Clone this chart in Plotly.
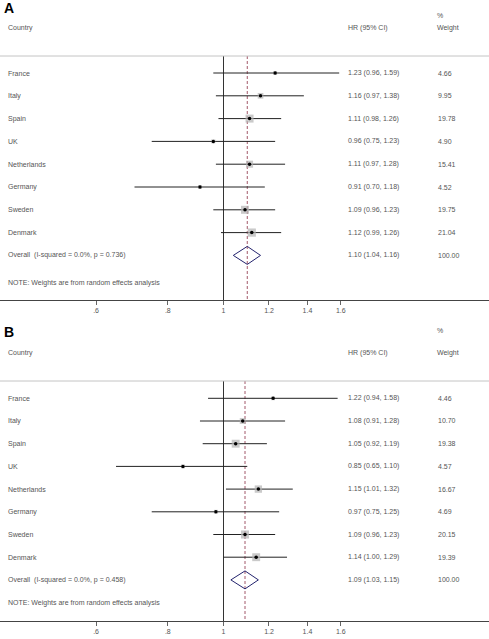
import math
import plotly.graph_objects as go

# ---------------- data ----------------
countries = ["France", "Italy", "Spain", "UK", "Netherlands", "Germany", "Sweden", "Denmark"]

a_hr = [1.23, 1.16, 1.11, 0.96, 1.11, 0.91, 1.09, 1.12]
a_lo = [0.96, 0.97, 0.98, 0.75, 0.97, 0.70, 0.96, 0.99]
a_hi = [1.59, 1.38, 1.26, 1.23, 1.28, 1.18, 1.23, 1.26]
a_w = [4.66, 9.95, 19.78, 4.90, 15.41, 4.52, 19.75, 21.04]
a_overall = [1.10, 1.04, 1.16]
a_het = "Overall  (I-squared = 0.0%, p = 0.736)"

b_hr = [1.22, 1.08, 1.05, 0.85, 1.15, 0.97, 1.09, 1.14]
b_lo = [0.94, 0.91, 0.92, 0.65, 1.01, 0.75, 0.96, 1.00]
b_hi = [1.58, 1.28, 1.19, 1.10, 1.32, 1.25, 1.23, 1.29]
b_w = [4.46, 10.70, 19.38, 4.57, 16.67, 4.69, 20.15, 19.39]
b_overall = [1.09, 1.03, 1.15]
b_het = "Overall  (I-squared = 0.0%, p = 0.458)"

tick_vals = [0.6, 0.8, 1, 1.2, 1.4, 1.6]
tick_text = [".6", ".8", "1", "1.2", "1.4", "1.6"]
note_text = "NOTE: Weights are from random effects analysis"

# ---------------- layout constants ----------------
W, H = 489, 639
FONT = "Liberation Sans, Arial, Helvetica, sans-serif"
TXT = "#555555"
X1_PX = 223.5          # pixel of HR = 1
PX_PER_LOG10 = 574.5
x_range = [-X1_PX / PX_PER_LOG10, (W - X1_PX) / PX_PER_LOG10]

panels = [
    dict(key="A", hr=a_hr, lo=a_lo, hi=a_hi, w=a_w, ov=a_overall, het=a_het,
         top=0, label_px=8, pct_px=15, head_px=28, line_px=56, first_px=73, step=22.8,
         note_px=283, axis_px=300, xa="x", ya="y"),
    dict(key="B", hr=b_hr, lo=b_lo, hi=b_hi, w=b_w, ov=b_overall, het=b_het,
         top=322, label_px=332, pct_px=331, head_px=353, line_px=381, first_px=398.3, step=22.7,
         note_px=603, axis_px=621, xa="x2", ya="y2"),
]

fig = go.Figure()
shapes = []
annotations = []

for p in panels:
    def row(px, p=p):
        return (px - p["first_px"]) / p["step"]

    n = len(countries)
    idx = list(range(n))
    ov_row = n
    line_row = row(p["line_px"])
    axis_row = row(p["axis_px"])
    top_row = row(p["top"])
    xa, ya = p["xa"], p["ya"]

    # reference line at 1
    fig.add_trace(go.Scatter(x=[1, 1], y=[line_row, axis_row], mode="lines",
                             line=dict(color="#333333", width=1), xaxis=xa, yaxis=ya,
                             hoverinfo="skip"))
    # overall dashed line
    fig.add_trace(go.Scatter(x=[p["ov"][0]] * 2, y=[line_row, axis_row], mode="lines",
                             line=dict(color="#8b2e44", width=0.8, dash="3px,2px"),
                             xaxis=xa, yaxis=ya, hoverinfo="skip"))
    # CI lines
    xs, ys = [], []
    for i in idx:
        xs += [p["lo"][i], p["hi"][i], None]
        ys += [i, i, None]
    fig.add_trace(go.Scatter(x=xs, y=ys, mode="lines", line=dict(color="#222222", width=1),
                             xaxis=xa, yaxis=ya, hoverinfo="skip"))
    # weight boxes
    fig.add_trace(go.Scatter(x=p["hr"], y=idx, mode="markers",
                             marker=dict(symbol="square", color="#b4b4b4",
                                         size=[1.8 * math.sqrt(v) for v in p["w"]],
                                         line=dict(width=0)),
                             xaxis=xa, yaxis=ya, hoverinfo="skip"))
    # point estimates
    fig.add_trace(go.Scatter(x=p["hr"], y=idx, mode="markers",
                             marker=dict(symbol="circle", color="#000000", size=3.5,
                                         line=dict(width=0)),
                             xaxis=xa, yaxis=ya, hoverinfo="skip"))
    # overall diamond
    est, lo, hi = p["ov"]
    hh = 9.0 / p["step"]
    fig.add_trace(go.Scatter(x=[lo, est, hi, est, lo],
                             y=[ov_row, ov_row - hh, ov_row, ov_row + hh, ov_row],
                             mode="lines", line=dict(color="#24246e", width=1),
                             xaxis=xa, yaxis=ya, hoverinfo="skip"))

    yref = ya
    # header separator
    shapes.append(dict(type="line", xref="paper", yref=yref, x0=0, x1=1,
                       y0=line_row, y1=line_row, line=dict(color="#c4c4c4", width=1)))

    def txt(x_px, y_px, s, size=7, color=TXT, bold=False):
        annotations.append(dict(xref="paper", yref=yref, x=x_px / W, y=row(y_px),
                                text=("<b>%s</b>" % s) if bold else s,
                                showarrow=False, xanchor="left", yanchor="middle",
                                font=dict(family=FONT, size=size, color=color)))

    def txt_row(x_px, r, s):
        annotations.append(dict(xref="paper", yref=yref, x=x_px / W, y=r, text=s,
                                showarrow=False, xanchor="left", yanchor="middle",
                                font=dict(family=FONT, size=7, color=TXT)))

    txt(2, p["label_px"], p["key"], size=14, color="#000000", bold=True)
    txt(435, p["pct_px"], "%")
    txt(6, p["head_px"], "Country")
    txt(346, p["head_px"], "HR (95% CI)")
    txt(435, p["head_px"], "Weight")
    for i in idx:
        txt_row(6, i, countries[i])
        txt_row(346, i, "%.2f (%.2f, %.2f)" % (p["hr"][i], p["lo"][i], p["hi"][i]))
        txt_row(436, i, "%.2f" % p["w"][i])
    txt_row(6, ov_row, p["het"])
    txt_row(346, ov_row, "%.2f (%.2f, %.2f)" % tuple(p["ov"]))
    txt_row(436, ov_row, "100.00")
    txt(6, p["note_px"], note_text)

    # axes
    dom = [1 - p["axis_px"] / H, 1 - p["top"] / H]
    xname = "xaxis" if xa == "x" else "xaxis2"
    yname = "yaxis" if ya == "y" else "yaxis2"
    fig.layout[xname] = dict(type="log", range=x_range, domain=[0, 1], anchor=ya,
                             tickvals=tick_vals, ticktext=tick_text, ticks="outside",
                             ticklen=4, tickcolor="#666666", tickwidth=1,
                             showline=True, linecolor="#444444", linewidth=1,
                             showgrid=False, zeroline=False,
                             tickfont=dict(family=FONT, size=7, color=TXT))
    fig.layout[yname] = dict(range=[axis_row, top_row], domain=dom, anchor=xa,
                             visible=False, showgrid=False, zeroline=False)

fig.update_layout(width=W, height=H, margin=dict(l=0, r=0, t=0, b=0),
                  paper_bgcolor="white", plot_bgcolor="white", showlegend=False,
                  shapes=shapes, annotations=annotations)

fig.write_html("out.html",
               config={"displayModeBar": False, "staticPlot": True},
               post_script="document.body.style.margin='0';document.body.style.padding='0';"
                           "document.body.style.overflow='hidden';")
